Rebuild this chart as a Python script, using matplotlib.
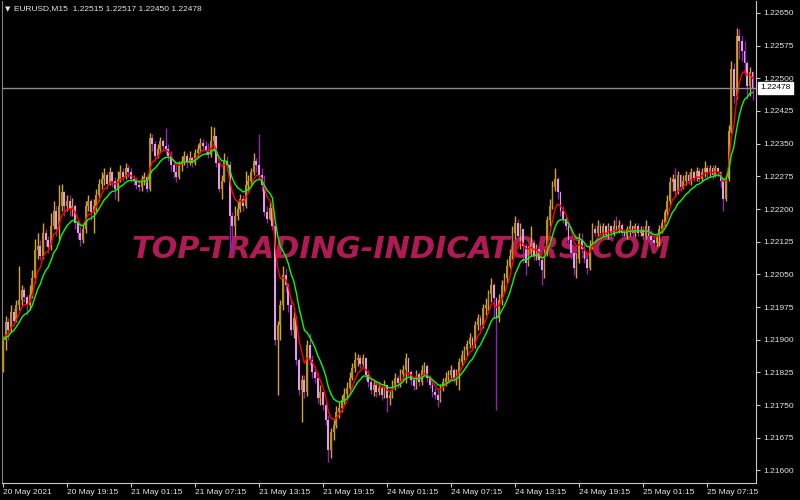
import numpy as np
import pandas as pd
import matplotlib
matplotlib.use('Agg')
import matplotlib.pyplot as plt
from matplotlib.transforms import blended_transform_factory

# EURUSD M15 candles, prices in points above 1.20000 (1 point = 0.00001)
first_open_pts = 1830
close_pts = [
    1899, 1940, 1922, 1963, 1944, 1979, 1990, 2013, 1997, 1979, 2002, 2041,
    2105, 2116, 2093, 2146, 2128, 2112, 2162, 2196, 2155, 2208, 2238, 2208,
    2219, 2201, 2208, 2169, 2146, 2128, 2155, 2208, 2219, 2192, 2208, 2231,
    2258, 2270, 2277, 2258, 2284, 2265, 2247, 2270, 2284, 2274, 2295, 2284,
    2270, 2265, 2256, 2251, 2270, 2274, 2247, 2364, 2350, 2322, 2338, 2357,
    2345, 2338, 2322, 2300, 2284, 2274, 2300, 2311, 2322, 2306, 2318, 2306,
    2329, 2338, 2352, 2345, 2334, 2325, 2357, 2368, 2306, 2247, 2265, 2311,
    2300, 2185, 2162, 2185, 2201, 2224, 2208, 2254, 2265, 2284, 2311, 2300,
    2277, 2254, 2192, 2178, 2203, 2162, 1899, 1933, 1979, 2048, 2025, 1979,
    1922, 1949, 1853, 1784, 1807, 1780, 1887, 1853, 1825, 1812, 1766, 1780,
    1750, 1715, 1647, 1688, 1704, 1734, 1743, 1761, 1775, 1789, 1812, 1835,
    1853, 1857, 1844, 1857, 1818, 1802, 1784, 1796, 1780, 1789, 1773, 1796,
    1766, 1773, 1796, 1812, 1800, 1821, 1830, 1857, 1825, 1807, 1793, 1821,
    1802, 1830, 1839, 1812, 1796, 1780, 1773, 1761, 1789, 1802, 1812, 1818,
    1830, 1812, 1823, 1848, 1864, 1876, 1889, 1903, 1887, 1933, 1949, 1933,
    1972, 1979, 2004, 2025, 1995, 1949, 1990, 2025, 2041, 2070, 2093, 2146,
    2169, 2139, 2155, 2116, 2077, 2105, 2123, 2093, 2109, 2082, 2059, 2100,
    2174, 2208, 2251, 2270, 2238, 2196, 2178, 2162, 2128, 2100, 2064, 2086,
    2128, 2109, 2086, 2064, 2116, 2155, 2144, 2162, 2146, 2160, 2141, 2160,
    2144, 2162, 2151, 2164, 2146, 2137, 2153, 2162, 2144, 2160, 2146, 2151,
    2137, 2162, 2137, 2128, 2121, 2137, 2155, 2169, 2192, 2219, 2261, 2270,
    2242, 2277, 2251, 2265, 2277, 2265, 2284, 2272, 2288, 2270, 2284, 2295,
    2284, 2293, 2279, 2293, 2284, 2265, 2224, 2270, 2380, 2522, 2460, 2597,
    2586, 2563, 2535, 2483, 2515, 2478,
]
high_pts = [
    1908, 1954, 1949, 1979, 1972, 1990, 2070, 2025, 2020, 2002, 2025, 2059,
    2132, 2144, 2128, 2169, 2155, 2139, 2190, 2219, 2208, 2254, 2258, 2242,
    2231, 2231, 2226, 2212, 2174, 2160, 2169, 2219, 2233, 2224, 2222, 2247,
    2270, 2284, 2293, 2284, 2297, 2288, 2274, 2288, 2300, 2293, 2306, 2300,
    2293, 2279, 2274, 2267, 2277, 2284, 2277, 2375, 2373, 2357, 2350, 2366,
    2361, 2387, 2350, 2334, 2311, 2300, 2311, 2322, 2334, 2329, 2334, 2322,
    2338, 2350, 2364, 2361, 2357, 2352, 2391, 2389, 2361, 2311, 2277, 2329,
    2322, 2311, 2192, 2208, 2219, 2235, 2231, 2288, 2277, 2293, 2329, 2316,
    2373, 2293, 2277, 2208, 2219, 2208, 2155, 1944, 1990, 2070, 2064, 2031,
    1990, 1963, 1956, 1857, 1818, 1818, 1899, 1915, 1864, 1839, 1825, 1796,
    1780, 1757, 1727, 1697, 1715, 1747, 1757, 1773, 1789, 1802, 1825, 1846,
    1871, 1867, 1864, 1867, 1853, 1830, 1812, 1807, 1802, 1800, 1796, 1807,
    1796, 1784, 1807, 1823, 1818, 1832, 1841, 1869, 1853, 1830, 1816, 1830,
    1825, 1841, 1848, 1844, 1818, 1807, 1789, 1784, 1798, 1812, 1825, 1830,
    1841, 1835, 1832, 1857, 1876, 1885, 1899, 1915, 1908, 1944, 1960, 1956,
    1983, 1995, 2013, 2041, 2031, 1999, 2004, 2036, 2054, 2086, 2109, 2162,
    2185, 2178, 2169, 2155, 2123, 2116, 2162, 2128, 2119, 2114, 2093, 2109,
    2185, 2224, 2265, 2295, 2274, 2242, 2208, 2185, 2169, 2139, 2109, 2100,
    2144, 2146, 2119, 2100, 2128, 2169, 2164, 2174, 2169, 2169, 2164, 2169,
    2164, 2174, 2185, 2174, 2169, 2155, 2160, 2174, 2164, 2169, 2167, 2160,
    2160, 2174, 2164, 2151, 2139, 2146, 2164, 2178, 2201, 2231, 2274, 2281,
    2295, 2288, 2281, 2277, 2288, 2284, 2293, 2290, 2297, 2293, 2295, 2311,
    2300, 2302, 2300, 2302, 2297, 2288, 2274, 2279, 2393, 2540, 2535, 2616,
    2613, 2597, 2586, 2540, 2526, 2517,
]
low_pts = [
    1825, 1876, 1899, 1917, 1933, 1940, 1967, 1979, 1986, 1956, 1967, 1995,
    2031, 2086, 2082, 2086, 2116, 2100, 2105, 2155, 2139, 2128, 2196, 2185,
    2196, 2185, 2185, 2155, 2132, 2116, 2121, 2146, 2196, 2174, 2144, 2196,
    2219, 2247, 2254, 2247, 2254, 2251, 2224, 2219, 2261, 2265, 2270, 2274,
    2261, 2256, 2247, 2242, 2242, 2256, 2238, 2242, 2334, 2311, 2316, 2329,
    2334, 2327, 2311, 2288, 2272, 2261, 2270, 2288, 2300, 2293, 2300, 2297,
    2300, 2320, 2329, 2334, 2325, 2316, 2320, 2334, 2297, 2238, 2224, 2261,
    2288, 2100, 2105, 2139, 2174, 2192, 2196, 2203, 2242, 2254, 2277, 2284,
    2270, 2242, 2185, 2169, 2174, 2151, 1887, 1773, 1899, 1967, 2009, 1963,
    1910, 1903, 1841, 1773, 1711, 1766, 1770, 1841, 1812, 1800, 1754, 1750,
    1738, 1704, 1619, 1628, 1670, 1697, 1720, 1734, 1752, 1766, 1780, 1807,
    1825, 1839, 1835, 1839, 1807, 1791, 1775, 1770, 1768, 1773, 1761, 1766,
    1734, 1750, 1766, 1784, 1789, 1791, 1807, 1800, 1816, 1796, 1784, 1786,
    1793, 1796, 1818, 1802, 1789, 1768, 1764, 1745, 1757, 1782, 1793, 1802,
    1807, 1802, 1796, 1784, 1839, 1853, 1862, 1880, 1876, 1880, 1922, 1922,
    1926, 1956, 1967, 1986, 1949, 1738, 1940, 1979, 2009, 2031, 2064, 2086,
    2132, 2128, 2109, 2077, 2048, 2070, 2093, 2082, 2082, 2070, 2025, 2041,
    2093, 2162, 2201, 2242, 2224, 2185, 2169, 2151, 2116, 2086, 2048, 2041,
    2077, 2098, 2077, 2050, 2059, 2109, 2137, 2137, 2137, 2137, 2132, 2132,
    2132, 2137, 2144, 2144, 2137, 2128, 2132, 2137, 2132, 2135, 2137, 2139,
    2128, 2132, 2128, 2119, 2112, 2114, 2114, 2146, 2160, 2183, 2210, 2242,
    2233, 2235, 2242, 2245, 2256, 2258, 2256, 2265, 2265, 2261, 2265, 2274,
    2270, 2274, 2270, 2274, 2274, 2251, 2196, 2219, 2265, 2375, 2444, 2453,
    2545, 2540, 2508, 2453, 2460, 2450,
]

tick_bars = [0, 24, 48, 72, 96, 120, 144, 168, 192, 216, 240, 264]
tick_labels = ['20 May 2021', '20 May 19:15', '21 May 01:15', '21 May 07:15',
               '21 May 13:15', '21 May 19:15', '24 May 01:15', '24 May 07:15',
               '24 May 13:15', '24 May 19:15', '25 May 01:15', '25 May 07:15']
price_ticks = [1.21600, 1.21675, 1.21750, 1.21825, 1.21900, 1.21975, 1.22050,
               1.22125, 1.22200, 1.22275, 1.22350, 1.22425, 1.22500, 1.22575,
               1.22650]
last_price = 1.22478
header = 'EURUSD,M15  1.22515 1.22517 1.22450 1.22478'
watermark = 'TOP-TRADING-INDICATORS.COM'

plt.rcParams['font.family'] = ['Liberation Sans', 'DejaVu Sans']

o = 1.2 + np.array([first_open_pts] + close_pts[:-1]) / 1e5
c = 1.2 + np.array(close_pts) / 1e5
h = np.maximum.reduce([1.2 + np.array(high_pts) / 1e5, o, c])
l = np.minimum.reduce([1.2 + np.array(low_pts) / 1e5, o, c])
x = np.arange(len(c))
up = c >= o

fig = plt.figure(figsize=(8, 5), dpi=100, facecolor='black')
ax = fig.add_axes([2 / 800, 17 / 500, 754 / 800, 482 / 500])
ax.set_facecolor('black')

# candles
ax.vlines(x[up], l[up], h[up], color='#D9A520', lw=1.0, zorder=2)
ax.vlines(x[~up], l[~up], h[~up], color='#9025B0', lw=1.0, zorder=2)
body = np.maximum(np.abs(c - o), 0.00002)
ax.bar(x[up], body[up], bottom=o[up], width=0.7, color='#B8930F', lw=0, zorder=3)
ax.bar(x[~up], body[~up], bottom=c[~up], width=0.7, color='#E29BE6', lw=0, zorder=3)

# moving averages
fast = pd.Series(c).ewm(span=6, adjust=False).mean()
slow = pd.Series(c).ewm(span=12, adjust=False).mean()
ax.plot(x, fast, color='#FF0000', lw=1.0, zorder=4)
ax.plot(x, slow, color='#00FF00', lw=1.0, zorder=4)

ax.axhline(last_price, color='#8C8C8C', lw=1, zorder=5)

ax.set_xlim(-0.375, 282.3)
ax.set_ylim(1.215710, 1.226775)

ax.spines['top'].set_visible(False)
ax.spines['left'].set_color('#808080')
for s in ('right', 'bottom'):
    ax.spines[s].set_color('#C8C8C8')

ax.yaxis.tick_right()
ax.set_yticks(price_ticks, [f'{p:.5f}' for p in price_ticks])
ax.tick_params(axis='y', direction='out', length=3, width=0.8, pad=2,
               color='#C8C8C8', labelcolor='#E6E6E6', labelsize=6)
ax.set_xticks(tick_bars, tick_labels)
for lbl in ax.get_xticklabels():
    lbl.set_horizontalalignment('left')
ax.tick_params(axis='x', direction='out', length=3, width=0.8, pad=1.5,
               color='#C8C8C8', labelcolor='#E6E6E6', labelsize=6)

# current price tag
tr = blended_transform_factory(ax.transAxes, ax.transData)
ax.text(1 + 4 / 754, last_price, f'{last_price:.5f}', transform=tr,
        ha='left', va='center', fontsize=6, color='black', clip_on=False,
        bbox=dict(boxstyle='square,pad=0.3', facecolor='white', edgecolor='white'))

fig.text(5 / 800, 1 - 9 / 500, '▼', fontsize=5, color='#E6E6E6',
         family='DejaVu Sans', ha='left', va='center')
fig.text(14 / 800, 1 - 9 / 500, header, fontsize=6, color='#E6E6E6',
         ha='left', va='center')

# watermark behind the candles, sized to span the same width as the original
wm = ax.text(401.5 / 800, 1 - 249 / 500, watermark, transform=fig.transFigure,
             ha='center', va='center', fontsize=22, color='#B01A55',
             family='DejaVu Sans', fontweight='bold', fontstyle='italic',
             zorder=1)
fig.canvas.draw()
w = wm.get_window_extent(fig.canvas.get_renderer()).width
wm.set_fontsize(22 * 537 / w)

fig.savefig('out.png', dpi=100, facecolor='black')
